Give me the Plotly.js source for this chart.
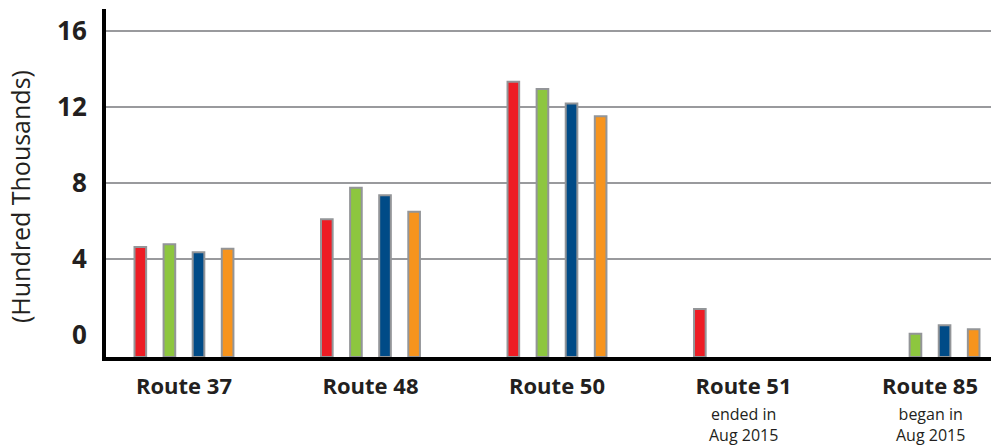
<!DOCTYPE html>
<html>
<head>
<meta charset="utf-8">
<script src="https://cdn.plot.ly/plotly-3.0.1.min.js"></script>
<style>
  html, body { margin: 0; padding: 0; background: #ffffff; }
  #chart { width: 991px; height: 446px; }
</style>
</head>
<body>
<div id="chart"></div>
<script>
// ---- data (values in hundred thousands) ----
const categories = ['Route 37', 'Route 48', 'Route 50', 'Route 51', 'Route 85'];
const captions   = ['', '', '', 'ended in<br>Aug 2015', 'began in<br>Aug 2015'];
const seriesRed    = [4.64, 6.10, 13.34, 1.38, null];
const seriesGreen  = [4.78, 7.76, 12.96, null, 0.08];
const seriesBlue   = [4.36, 7.36, 12.20, null, 0.52];
const seriesOrange = [4.55, 6.50, 11.52, null, 0.31];
const yTickVals  = [0, 4, 8, 12, 16];
const yTickText  = ['0', '4', '8', '12', '16'];

// ---- styling ----
const BASELINE = -1.15;          // where the drawn baseline sits on the value axis
const Y_TOP = 17.17;
const INK = '#231f20';
const FONT = 'Open Sans, Lato, DejaVu Sans, sans-serif';
const series = [
  { name: 'Red',    values: seriesRed,    color: '#ed1c24' },
  { name: 'Green',  values: seriesGreen,  color: '#8dc63f' },
  { name: 'Blue',   values: seriesBlue,   color: '#004b87' },
  { name: 'Orange', values: seriesOrange, color: '#f7941d' }
];

const traces = series.map(s => ({
  type: 'bar',
  name: s.name,
  x: categories,
  y: s.values.map(v => (v === null ? null : v - BASELINE)),
  base: BASELINE,
  customdata: s.values,
  hovertemplate: '%{x}: %{customdata}<extra>' + s.name + '</extra>',
  marker: { color: s.color, line: { color: '#939598', width: 2 } }
}));

const annotations = categories.map((c, i) => ({
  x: c, xref: 'x', y: -0.125, yref: 'paper',
  xanchor: 'center', yanchor: 'top',
  text: captions[i], showarrow: false,
  font: { family: FONT, size: 16, color: INK }
})).filter(a => a.text !== '');

annotations.push({
  x: -0.097, xref: 'paper', y: 0.46, yref: 'paper',
  xanchor: 'center', yanchor: 'middle',
  text: '(Hundred Thousands)', textangle: -90, showarrow: false,
  font: { family: FONT, size: 25, color: INK }
});

const layout = {
  width: 991, height: 446,
  margin: { l: 106, r: 0, t: 9, b: 89, pad: 0 },
  paper_bgcolor: '#ffffff', plot_bgcolor: '#ffffff',
  showlegend: false,
  barmode: 'group',
  bargap: 0.376,
  bargroupgap: 0.6,
  font: { family: FONT, color: INK },
  xaxis: {
    type: 'category',
    range: [-0.418, 4.327],
    showgrid: false, zeroline: false,
    showline: true, linecolor: '#000000', linewidth: 4,
    ticks: '', ticklabelstandoff: 7,
    tickfont: { family: FONT, size: 22, weight: 700, color: INK }
  },
  yaxis: {
    range: [BASELINE, Y_TOP],
    tickvals: yTickVals, ticktext: yTickText,
    showgrid: true, gridcolor: '#999a9d', gridwidth: 2,
    zeroline: true, zerolinecolor: '#ffffff', zerolinewidth: 4,
    showline: true, linecolor: '#000000', linewidth: 4,
    ticks: '', ticklabelstandoff: 10,
    tickfont: { family: FONT, size: 26, weight: 700, color: INK }
  },
  annotations: annotations
};

Plotly.newPlot('chart', traces, layout, { displayModeBar: false, staticPlot: true });
</script>
</body>
</html>
